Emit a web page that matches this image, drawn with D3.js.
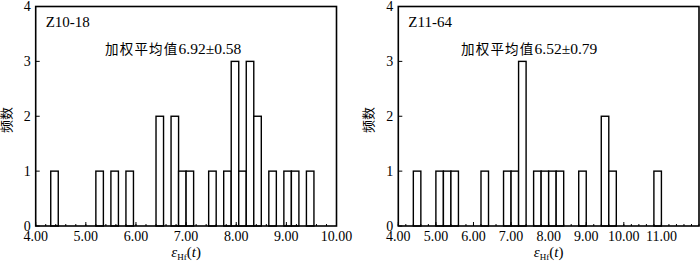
<!DOCTYPE html>
<html><head><meta charset="utf-8">
<script src="https://cdn.jsdelivr.net/npm/d3@7"></script>
<style>body{margin:0;background:#fff}svg{display:block}</style>
</head><body>
<script>
// Left panel (Z10-18): bin start values and counts (bin width 0.15)
const leftBins = [4.30,5.20,5.50,5.80,6.40,6.70,6.85,7.00,7.45,7.75,7.90,8.05,8.20,8.35,8.65,8.95,9.10,9.40];
const leftCounts = [1,1,1,1,2,2,1,1,1,1,3,1,3,2,1,1,1,1];
const leftWidth = 0.15;
// Right panel (Z11-64): bin start values and counts (bin width 0.2)
const rightBins = [4.4,5.0,5.2,5.4,6.2,6.8,7.0,7.2,7.6,7.8,8.0,8.2,8.8,9.4,9.6,10.8];
const rightCounts = [1,1,1,1,1,1,1,3,1,1,1,1,1,2,1,1];
const rightWidth = 0.2;
const leftXTicks = [4,5,6,7,8,9,10];
const rightXTicks = [4,5,6,7,8,9,10,11];
const yTicks = [0,1,2,3,4];
const titles = ["Z10-18","Z11-64"];
const notes = ["6.92±0.58","6.52±0.79"];
const notePrefix = "加权平均值";
const yLabel = "频数";

const svg = d3.select("body").append("svg").attr("width",700).attr("height",261);
const serif = "'Liberation Serif', 'Times New Roman', 'DejaVu Serif', serif";
const cjk = "'Noto Sans CJK SC', 'Noto Sans CJK JP', sans-serif";

function panel(cfg){
  const x = d3.scaleLinear().domain(cfg.domain).range(cfg.range);
  const y = d3.scaleLinear().domain([0,4]).range([226,6.5]);
  const g = svg.append("g");
  g.selectAll("rect.bar").data(cfg.bins.map((b,i)=>({b,c:cfg.counts[i]}))).join("rect")
    .attr("x",d=>x(d.b)).attr("width",d=>x(d.b+cfg.w)-x(d.b))
    .attr("y",d=>y(d.c)).attr("height",d=>y(0)-y(d.c))
    .attr("fill","#fff").attr("stroke","#000").attr("stroke-width",1.4);
  const minor = d3.range(cfg.domain[0], cfg.domain[1]+0.001, 0.2);
  g.selectAll("line.mx").data(minor).join("line")
    .attr("x1",d=>x(d)).attr("x2",d=>x(d)).attr("y1",y(0)).attr("y2",y(0)-2)
    .attr("stroke","#000").attr("stroke-width",1);
  g.selectAll("line.Mx").data(cfg.xticks).join("line")
    .attr("x1",d=>x(d)).attr("x2",d=>x(d)).attr("y1",y(0)).attr("y2",y(0)-4)
    .attr("stroke","#000").attr("stroke-width",1);
  g.selectAll("line.my").data(yTicks).join("line")
    .attr("x1",x.range()[0]).attr("x2",x.range()[0]+4).attr("y1",d=>y(d)).attr("y2",d=>y(d))
    .attr("stroke","#000").attr("stroke-width",1);
  g.append("rect").attr("x",x.range()[0]).attr("y",y(4)).attr("width",x.range()[1]-x.range()[0]).attr("height",y(0)-y(4))
    .attr("fill","none").attr("stroke","#000").attr("stroke-width",1.6);
  g.selectAll("text.xt").data(cfg.xticks).join("text")
    .attr("x",d=>x(d)).attr("y",241).attr("text-anchor","middle")
    .style("font-family",serif).attr("font-size",14).text(d=>d3.format(".2f")(d));
  g.selectAll("text.yt").data(yTicks).join("text")
    .attr("x",x.range()[0]-5).attr("y",d=>y(d)+4.5).attr("text-anchor","end")
    .style("font-family",serif).attr("font-size",14).text(d=>d);
  g.append("text").attr("x",x.range()[0]+10).attr("y",27).style("font-family",serif).attr("font-size",15).text(cfg.title);
  const t = g.append("text").attr("x",cfg.noteX).attr("y",54);
  t.append("tspan").style("font-family",cjk).attr("font-size",13.5).attr("letter-spacing",1.2).text(notePrefix);
  t.append("tspan").style("font-family",serif).attr("font-size",15.5).text(cfg.note);
  g.append("text").attr("transform",`translate(${cfg.yLabX},120) rotate(-90)`).attr("text-anchor","middle")
    .style("font-family",cjk).attr("font-size",13).text(yLabel);
  const cx = (x.range()[0]+x.range()[1])/2;
  const xl = g.append("text").attr("x",cx).attr("y",257).attr("text-anchor","middle").style("font-family",serif).attr("font-size",15);
  xl.append("tspan").attr("font-style","italic").text("ε");
  xl.append("tspan").attr("font-size",9).attr("dy",3).text("Hf");
  xl.append("tspan").attr("dy",-3).text("(");
  xl.append("tspan").attr("font-style","italic").text("t");
  xl.append("tspan").text(")");
}
panel({domain:[4,10],range:[35.7,336.5],bins:leftBins,counts:leftCounts,w:leftWidth,xticks:leftXTicks,title:titles[0],note:notes[0],noteX:105,yLabX:11});
panel({domain:[4,12],range:[398.3,699],bins:rightBins,counts:rightCounts,w:rightWidth,xticks:rightXTicks,title:titles[1],note:notes[1],noteX:461,yLabX:373});
</script>
</body></html>
